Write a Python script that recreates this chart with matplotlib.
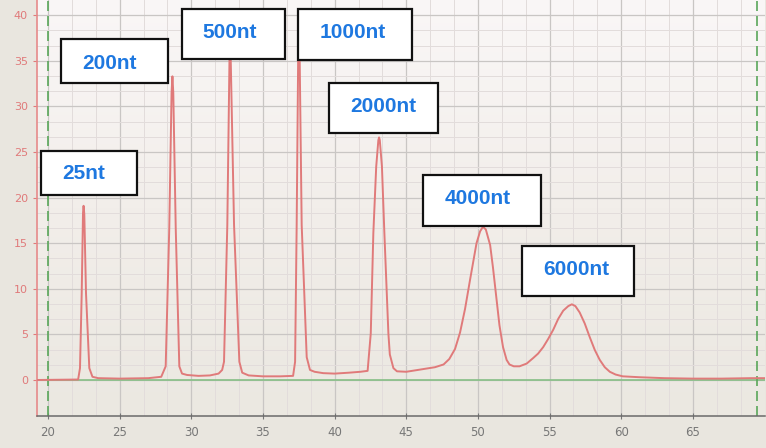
import numpy as np
import matplotlib
matplotlib.use("Agg")
import matplotlib.pyplot as plt
from matplotlib.colors import LinearSegmentedColormap
from matplotlib.patches import Rectangle

# =========================
# ELECTROPHEROGRAM DATA
# =========================

trace_time = [
    19.3, 22.10, 22.23, 22.35, 22.44, 22.48, 22.53, 22.65, 22.88, 23.10, 23.5, 25.0, 27.0, 27.9,
    28.21, 28.46, 28.62, 28.68, 28.74, 28.91, 29.16, 29.35, 29.7, 30.5, 31.3, 31.9, 32.15,
    32.28, 32.51, 32.66, 32.70, 32.75, 32.98, 33.35, 33.55, 34.0, 35.0, 36.2, 37.1,
    37.24, 37.35, 37.46, 37.50, 37.55, 37.70, 38.05, 38.28, 38.6, 39.2, 40.0, 41.0, 41.8, 42.3,
    42.52, 42.70, 42.90, 43.05, 43.10, 43.15, 43.30, 43.47, 43.75, 43.85, 44.1, 44.35, 45.0,
    46.2, 47.0, 47.6, 48.0, 48.4, 48.75, 49.1, 49.45, 49.9, 50.15, 50.35, 50.55, 50.85, 51.05,
    51.3, 51.5, 51.75, 52.0, 52.2, 52.5, 52.9, 53.4, 53.85, 54.2, 54.55, 54.9, 55.25, 55.6,
    55.95, 56.3, 56.55, 56.8, 57.1, 57.45, 57.8, 58.15, 58.5, 58.85, 59.2, 59.6, 60.1, 61.3,
    63.0, 65.0, 67.0, 69.0, 70.0,
]
trace_signal = [
    0.0, 0.05, 1.3, 9.5, 18.3, 19.1, 18.2, 9.5, 1.3, 0.35, 0.2, 0.15, 0.2, 0.35,
    1.5, 16.7, 31.5, 33.3, 31.5, 16.7, 1.5, 0.7, 0.55, 0.45, 0.5, 0.7, 1.1,
    2.0, 17.0, 35.0, 36.5, 35.0, 17.0, 2.0, 0.8, 0.5, 0.4, 0.4, 0.45,
    2.0, 17.0, 36.5, 38.0, 36.5, 17.0, 2.5, 1.1, 0.9, 0.75, 0.7, 0.8, 0.9, 1.0,
    5.1, 16.1, 23.4, 26.3, 26.6, 26.3, 23.4, 16.1, 5.1, 2.8, 1.3, 0.95, 0.9,
    1.2, 1.4, 1.7, 2.3, 3.4, 5.2, 7.8, 11.0, 15.0, 16.3, 16.8, 16.5, 14.8, 12.3,
    8.8, 6.0, 3.6, 2.2, 1.7, 1.5, 1.5, 1.8, 2.4, 2.9, 3.6, 4.5, 5.5, 6.7,
    7.6, 8.1, 8.3, 8.1, 7.4, 6.2, 4.7, 3.3, 2.2, 1.4, 0.9, 0.6, 0.4, 0.3,
    0.2, 0.15, 0.15, 0.2, 0.2,
]

ladder_labels = ["25nt", "200nt", "500nt", "1000nt", "2000nt", "4000nt", "6000nt"]

x_ticks = [20, 25, 30, 35, 40, 45, 50, 55, 60, 65]
y_ticks = [0, 5, 10, 15, 20, 25, 30, 35, 40]
marker_times = [20.0, 69.5]

# label box layout (data units): left, bottom, width, height, text x, text y
box_layout = [
    (19.51, 20.29, 6.70, 4.82, 22.51, 22.6),
    (20.91, 32.57, 7.46, 4.82, 24.30, 34.7),
    (29.35, 35.20, 7.19, 5.48, 32.70, 38.1),
    (37.45, 35.09, 7.95, 5.59, 41.26, 38.1),
    (39.61, 27.08, 7.61, 5.49, 43.40, 30.0),
    (46.17, 16.89, 8.23, 5.59, 49.96, 19.9),
    (53.08, 9.21, 7.81, 5.48, 56.85, 12.1),
]

# =========================
# FIGURE
# =========================

fig = plt.figure(figsize=(7.66, 4.48), dpi=100, facecolor="#e9e6df")
ax = fig.add_axes([37 / 766, 32 / 448, 728 / 766, 416 / 448])
ax.set_xlim(19.23, 70.03)
ax.set_ylim(-3.95, 41.67)

# background gradient of the plot area
bg = LinearSegmentedColormap.from_list("bg", ["#ebe8e1", "#f2eeea", "#faf7f7"])
ax.imshow(np.linspace(0, 1, 256).reshape(-1, 1), cmap=bg, aspect="auto",
          extent=[0, 1, 0, 1], transform=ax.transAxes, origin="lower", zorder=0)

# grid
ax.set_xticks(x_ticks)
ax.set_yticks(y_ticks)
ax.set_xticks(np.arange(20, 70.01, 5 / 3), minor=True)
ax.set_yticks(np.arange(0, 41, 5 / 3), minor=True)
ax.grid(True, which="major", color="#c9c6c4", linewidth=0.9, zorder=1)
ax.grid(True, which="minor", color="#e2dcdb", linewidth=0.7, zorder=1)
ax.set_axisbelow(True)

# zero line and marker lines
ax.axhline(0, color="#86bf86", linewidth=1.2, zorder=2)
for t in marker_times:
    ax.axvline(t, color="#5aa65a", linewidth=1.2, linestyle=(0, (6, 3)), zorder=2)

# trace
ax.plot(trace_time, trace_signal, color="#e07a7a", linewidth=1.4, zorder=3)

# label boxes
for label, (bx, by, bw, bh, tx, ty) in zip(ladder_labels, box_layout):
    ax.add_patch(Rectangle((bx, by), bw, bh, facecolor="white", edgecolor="#111111",
                           linewidth=1.6, zorder=5))
    ax.text(tx, ty, label, color="#1e78e0", fontsize=15, fontweight="bold",
            family="Liberation Sans", ha="center", va="center", zorder=6)

# spines and ticks
ax.spines["top"].set_visible(False)
ax.spines["right"].set_visible(False)
ax.spines["left"].set_color("#e68a8a")
ax.spines["left"].set_linewidth(1.2)
ax.spines["bottom"].set_color("#6a6a6a")
ax.spines["bottom"].set_linewidth(1.1)
ax.tick_params(axis="y", which="major", colors="#e07a7a", labelsize=8, length=3, direction="out")
ax.tick_params(axis="x", which="major", colors="#777777", labelsize=8.5, length=5,
               direction="inout", pad=5)
ax.tick_params(which="minor", length=0)

fig.savefig("out.png", dpi=100, facecolor=fig.get_facecolor())
